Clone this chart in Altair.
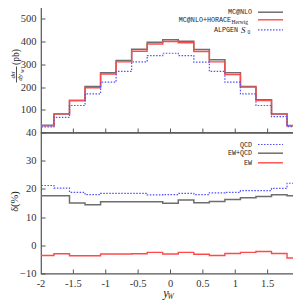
import altair as alt
import pandas as pd

# bin edges (width 0.24, centred on 0); last edge closes the final bin
edges = [-2.04, -1.80, -1.56, -1.32, -1.08, -0.84, -0.60, -0.36, -0.12,
         0.12, 0.36, 0.60, 0.84, 1.08, 1.32, 1.56, 1.80, 2.04]

# top panel: d sigma / d y_W (pb)
mcnlo = [32, 82, 141, 203, 263, 317, 367, 398, 408, 402, 366, 320, 263, 203, 144, 82, 31]
horace = [30, 82, 141, 197, 258, 311, 358, 390, 401, 395, 357, 311, 255, 200, 141, 82, 30]
alpgen = [25, 67, 119, 170, 222, 269, 311, 339, 349, 339, 310, 269, 222, 170, 119, 70, 26]

# bottom panel: delta (%)
qcd = [21.2, 20.3, 18.8, 18.0, 18.4, 18.4, 18.4, 17.9, 18.0, 18.4, 18.0, 18.6, 18.8, 19.4, 19.4, 20.2, 22.0]
ewqcd = [17.6, 17.6, 15.0, 14.4, 15.4, 15.4, 15.4, 15.4, 14.9, 16.1, 15.1, 15.5, 16.2, 16.9, 17.3, 17.9, 17.6]
ew = [-3.6, -3.0, -3.7, -3.7, -3.1, -3.1, -3.0, -2.5, -3.1, -2.5, -3.2, -3.6, -2.9, -2.5, -2.2, -2.9, -4.5]

y_top_ticks = [100, 200, 300, 400, 500]
y_bot_ticks = [-10, 0, 10, 20, 30, 40]
x_ticks = [-2, -1.5, -1, -0.5, 0, 0.5, 1, 1.5, 2]
x_tick_labels = ["-2", "-1.5", "-1", "-0.5", "0", "0.5", "1", "1.5", "2"]
x_inner_ticks = [-1.5, -1, -0.5, 0, 0.5, 1, 1.5]

top_legend = ["MC@NLO", "MC@NLO+HORACE", "Herwig", "ALPGEN", "S", "0"]
bot_legend = ["QCD", "EW+QCD", "EW"]
titles = ["(pb)", "dσ", "dy", "W", "δ(%)", "y", "W"]

W, H1, H2 = 259, 131, 141
FRAME = "#555555"
TXT = "#222222"
SERIF = "Liberation Serif"
MONO = "Liberation Mono"
GRAY, RED, BLUE = "#6e6e6e", "#ff4a4a", "#5050ff"
DOT = [1.5, 1.5]

xs = alt.Scale(domain=[-2, 2], nice=False, zero=False)
ys1 = alt.Scale(domain=[0, 577], nice=False, zero=False)
ys2 = alt.Scale(domain=[-10, 40], nice=False, zero=False)


def step_df(vals):
    return pd.DataFrame({"x": edges, "v": list(vals) + [vals[-1]]})


def yaxis(orient, values, labels=True):
    kw = dict(orient=orient, values=values, domain=False, grid=False, ticks=True,
              tickSize=4, offset=-4, tickColor=FRAME, tickWidth=1, title=None,
              labels=labels, zindex=2)
    if labels:
        kw.update(labelFont=SERIF, labelFontSize=10.5, labelColor="#333333",
                  labelPadding=5)
    return alt.Axis(**kw)


def series(vals, color, width, ys, dash=None):
    props = dict(interpolate="step-after", color=color, strokeWidth=width, clip=True)
    if dash:
        props["strokeDash"] = dash
    return alt.Chart(step_df(vals)).mark_line(**props).encode(
        x=alt.X("x:Q", scale=xs, axis=None),
        y=alt.Y("v:Q", scale=ys, axis=None),
    )


def axes_layer(vals, ys, ax):
    # invisible copy of a series that only carries a y axis
    return alt.Chart(step_df(vals)).mark_line(strokeOpacity=0).encode(
        x=alt.X("x:Q", scale=xs, axis=None),
        y=alt.Y("v:Q", scale=ys, axis=ax),
    )


def x_ticks_layer(values, h):
    return alt.Chart(pd.DataFrame({"x": values})).mark_rule(
        color=FRAME, strokeWidth=1).encode(
        x=alt.X("x:Q", scale=xs, axis=None),
        y=alt.value(h - 4), y2=alt.value(h))


def x_labels_layer(values, labels, h):
    return alt.Chart(pd.DataFrame({"x": values, "t": labels})).mark_text(
        font=SERIF, fontSize=10.5, color="#333333", baseline="middle",
        align="center").encode(
        x=alt.X("x:Q", scale=xs, axis=None), text="t:N",
        y=alt.value(h + 10.5))


def txt(s, x, y, size, font=SERIF, align="center", angle=0, style="normal"):
    props = dict(font=font, fontSize=size, align=align, baseline="middle",
                 color=TXT, fontStyle=style)
    if angle:
        props["angle"] = angle
    return alt.Chart(pd.DataFrame({"t": [s]})).mark_text(**props).encode(
        text="t:N", x=alt.value(x), y=alt.value(y))


def seg(x1, x2, y, color, width, dash=None):
    props = dict(color=color, strokeWidth=width)
    if dash:
        props["strokeDash"] = dash
    return alt.Chart(pd.DataFrame({"k": [0]})).mark_rule(**props).encode(
        x=alt.value(x1), x2=alt.value(x2), y=alt.value(y))


def vbar(x, y1, y2, color, width):
    return alt.Chart(pd.DataFrame({"k": [0]})).mark_rule(color=color, strokeWidth=width).encode(
        x=alt.value(x), y=alt.value(y1), y2=alt.value(y2))


LX1, LX2 = 217, 242
top = alt.layer(
    series(mcnlo, GRAY, 1.5, ys1),
    series(horace, RED, 1.4, ys1),
    series(alpgen, BLUE, 1.2, ys1, dash=DOT),
    axes_layer(mcnlo, ys1, yaxis("left", y_top_ticks)),
    axes_layer(horace, ys1, yaxis("right", y_top_ticks, labels=False)),
    x_ticks_layer(x_inner_ticks, H1),
    # legend
    txt(top_legend[0], 211, 10.7, 6.7, font=MONO, align="right"),
    seg(LX1, LX2, 10.7, GRAY, 1.5),
    txt(top_legend[1], 190, 18.3, 6.7, font=MONO, align="right"),
    txt(top_legend[2], 190.5, 20.3, 5.5, align="left"),
    seg(LX1, LX2, 18.3, RED, 1.4),
    txt(top_legend[3], 197, 28.3, 6.7, font=MONO, align="right"),
    txt(top_legend[4], 200, 28.0, 9, align="left", style="italic"),
    txt(top_legend[5], 206.5, 30.0, 5.5, align="left"),
    seg(LX1, LX2, 28.3, BLUE, 1.2, dash=DOT),
    # y title: d sigma / d y_W (pb)
    txt(titles[0], -25.5, 55.5, 9.5, angle=270),
    txt(titles[1], -28, 73.5, 7, angle=270, style="italic"),
    vbar(-24.5, 65, 81, TXT, 0.8),
    txt(titles[2], -21, 76, 7, angle=270, style="italic"),
    txt(titles[3], -19.5, 69.5, 5, angle=270, style="italic"),
).properties(width=W, height=H1)

bottom = alt.layer(
    series(qcd, BLUE, 1.2, ys2, dash=DOT),
    series(ewqcd, GRAY, 1.5, ys2),
    series(ew, RED, 1.4, ys2),
    axes_layer(qcd, ys2, yaxis("left", y_bot_ticks)),
    axes_layer(ewqcd, ys2, yaxis("right", y_bot_ticks, labels=False)),
    x_ticks_layer(x_inner_ticks, H2),
    x_labels_layer(x_ticks, x_tick_labels, H2),
    # legend
    txt(bot_legend[0], 211, 12, 6.7, font=MONO, align="right"),
    seg(LX1, LX2, 12, BLUE, 1.2, dash=DOT),
    txt(bot_legend[1], 211, 20.7, 6.7, font=MONO, align="right"),
    seg(LX1, LX2, 20.7, GRAY, 1.5),
    txt(bot_legend[2], 211, 30.3, 6.7, font=MONO, align="right"),
    seg(LX1, LX2, 30.3, RED, 1.4),
    # titles
    txt(titles[4], -26.5, 69, 10.5, angle=270),
    txt(titles[5], 125, 160, 12, style="italic"),
    txt(titles[6], 129.5, 164.5, 7.5, style="italic"),
).properties(width=W, height=H2)

chart = alt.vconcat(top, bottom, spacing=0, bounds="flush").properties(
    padding={"left": 0, "top": -7.5, "right": -11, "bottom": 0}
).configure_view(stroke=FRAME, strokeWidth=1.2)

chart.save("out.html", embed_options={"renderer": "svg", "actions": False})
